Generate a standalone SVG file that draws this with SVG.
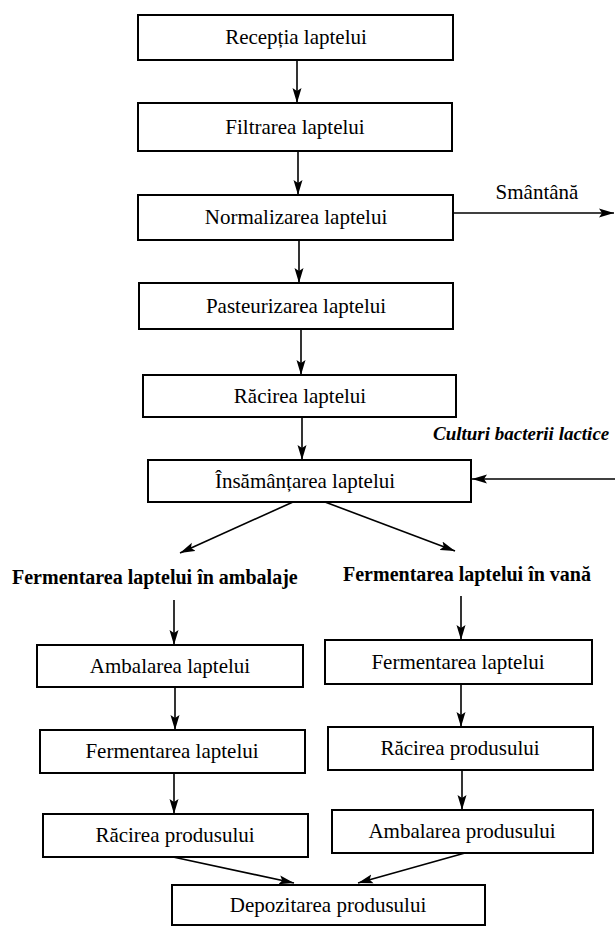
<svg xmlns="http://www.w3.org/2000/svg" width="615" height="932" viewBox="0 0 615 932">
<style>
.box{fill:#fff;stroke:#000;stroke-width:2}
.t{font-family:"Liberation Serif","Times New Roman",serif;font-size:21px;fill:#000;text-anchor:middle}
.b{font-family:"Liberation Serif","Times New Roman",serif;font-size:20px;font-weight:bold;fill:#000}
.bi{font-family:"Liberation Serif","Times New Roman",serif;font-size:19px;font-weight:bold;font-style:italic;fill:#000}
.c{stroke:#000;stroke-width:1.6;fill:none;marker-end:url(#ah)}
</style>
<defs>
<marker id="ah" markerUnits="userSpaceOnUse" markerWidth="16" markerHeight="10" refX="15" refY="5" orient="auto">
<path d="M0,0.5 L15,5 L0,9.5 L3,5 z" fill="#000"/>
</marker>
</defs>
<rect width="615" height="932" fill="#fff"/>
<g id="connectors">
<line class="c" x1="297" y1="60" x2="297" y2="103"/>
<line class="c" x1="298" y1="151" x2="298" y2="195"/>
<line class="c" x1="453" y1="213" x2="614" y2="213"/>
<line class="c" x1="299" y1="240" x2="299" y2="283"/>
<line class="c" x1="301" y1="329" x2="301" y2="375"/>
<line class="c" x1="302" y1="417" x2="302" y2="460"/>
<line class="c" x1="615" y1="479" x2="472" y2="479"/>
<line class="c" x1="293" y1="502" x2="180" y2="553"/>
<line class="c" x1="325" y1="502" x2="455" y2="551"/>
<line class="c" x1="174" y1="600" x2="174" y2="645"/>
<line class="c" x1="461" y1="596" x2="461" y2="640"/>
<line class="c" x1="175" y1="687" x2="175" y2="730"/>
<line class="c" x1="461" y1="684" x2="461" y2="727"/>
<line class="c" x1="174" y1="773" x2="174" y2="814"/>
<line class="c" x1="462" y1="770" x2="462" y2="810"/>
<line class="c" x1="173" y1="857" x2="294" y2="883"/>
<line class="c" x1="465" y1="853" x2="358" y2="883"/>
</g>
<g id="n1"><rect class="box" x="138" y="15" width="315" height="45"/><text class="t" x="296" y="44">Recepția laptelui</text></g>
<g id="n2"><rect class="box" x="138" y="103" width="314" height="48"/><text class="t" x="295" y="134">Filtrarea laptelui</text></g>
<g id="n3"><rect class="box" x="138" y="195" width="315" height="45"/><text class="t" x="296" y="224">Normalizarea laptelui</text></g>
<g id="smantana"><text class="t" x="537" y="199">Smântână</text></g>
<g id="n4"><rect class="box" x="139" y="283" width="314" height="46"/><text class="t" x="296" y="313">Pasteurizarea laptelui</text></g>
<g id="n5"><rect class="box" x="143" y="375" width="313" height="42"/><text class="t" x="300" y="403">Răcirea laptelui</text></g>
<g id="culturi"><text class="bi" x="433" y="440">Culturi bacterii lactice</text></g>
<g id="n6"><rect class="box" x="148" y="460" width="323" height="42"/><text class="t" x="305" y="488">Însămânțarea laptelui</text></g>
<g id="label-ambalaje"><text class="b" x="12" y="584">Fermentarea laptelui în ambalaje</text></g>
<g id="label-vana"><text class="b" x="343" y="581">Fermentarea laptelui în vană</text></g>
<g id="l1"><rect class="box" x="37" y="645" width="266" height="42"/><text class="t" x="170" y="673">Ambalarea laptelui</text></g>
<g id="l2"><rect class="box" x="40" y="730" width="265" height="43"/><text class="t" x="172" y="758">Fermentarea laptelui</text></g>
<g id="l3"><rect class="box" x="43" y="814" width="265" height="43"/><text class="t" x="175" y="842">Răcirea produsului</text></g>
<g id="r1"><rect class="box" x="325" y="640" width="267" height="44"/><text class="t" x="458" y="669">Fermentarea laptelui</text></g>
<g id="r2"><rect class="box" x="328" y="727" width="265" height="43"/><text class="t" x="460" y="755">Răcirea produsului</text></g>
<g id="r3"><rect class="box" x="332" y="810" width="261" height="43"/><text class="t" x="462" y="838">Ambalarea produsului</text></g>
<g id="n7"><rect class="box" x="172" y="885" width="313" height="40"/><text class="t" x="328" y="912">Depozitarea produsului</text></g>
</svg>
